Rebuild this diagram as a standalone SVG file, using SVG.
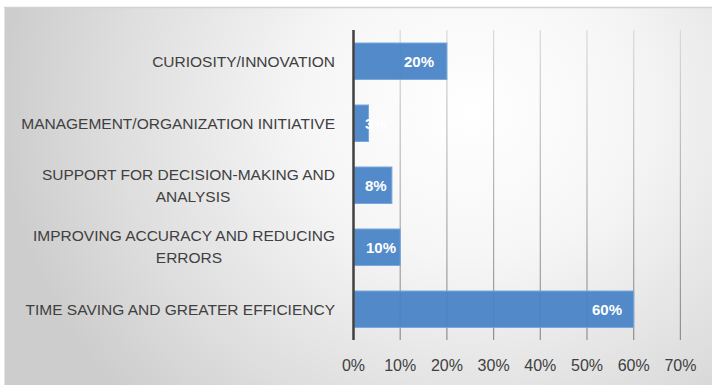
<svg xmlns="http://www.w3.org/2000/svg" width="712" height="385" viewBox="0 0 712 385">
<defs>
<radialGradient id="bg" gradientUnits="userSpaceOnUse" cx="470" cy="110" r="470" gradientTransform="translate(470 110) scale(1 0.9) translate(-470 -110)">
<stop offset="0" stop-color="#ffffff"/>
<stop offset="0.35" stop-color="#f6f6f6"/>
<stop offset="0.75" stop-color="#dedede"/>
<stop offset="1" stop-color="#cdcdcd"/>
</radialGradient>
<linearGradient id="grid" gradientUnits="userSpaceOnUse" x1="0" y1="30" x2="0" y2="340">
<stop offset="0" stop-color="#dadada"/>
<stop offset="1" stop-color="#8e8e8e"/>
</linearGradient>
<style>
.cat{font-family:"Liberation Sans",Arial,sans-serif;font-size:15.5px;fill:#404040;text-anchor:end}
.cat2{font-family:"Liberation Sans",Arial,sans-serif;font-size:15.5px;fill:#404040;text-anchor:middle}
.ax{font-family:"Liberation Sans",Arial,sans-serif;font-size:16px;fill:#404040;text-anchor:middle}
.val{font-family:"Liberation Sans",Arial,sans-serif;font-size:15px;font-weight:bold;fill:#ffffff}
.bar{fill:#4682c6;fill-opacity:0.93;stroke:#7aa7dc;stroke-width:1}
.gl{stroke:url(#grid);stroke-width:1.2}
</style>
</defs>
<rect x="0" y="0" width="712" height="385" fill="#ffffff"/>
<rect x="4" y="8" width="708" height="377" fill="url(#bg)"/>
<line x1="4" y1="7.5" x2="712" y2="7.5" stroke="#d2d2d2" stroke-width="1.5"/>
<line x1="4.5" y1="8" x2="4.5" y2="385" stroke="#e4e4e4" stroke-width="1"/>
<g id="gridlines">
<line class="gl" x1="400.2" y1="30" x2="400.2" y2="340"/>
<line class="gl" x1="446.9" y1="30" x2="446.9" y2="340"/>
<line class="gl" x1="493.6" y1="30" x2="493.6" y2="340"/>
<line class="gl" x1="540.3" y1="30" x2="540.3" y2="340"/>
<line class="gl" x1="587" y1="30" x2="587" y2="340"/>
<line class="gl" x1="633.7" y1="30" x2="633.7" y2="340"/>
<line class="gl" x1="680.4" y1="30" x2="680.4" y2="340"/>
</g>
<g id="bar-curiosity">
<rect class="bar" x="354.5" y="43" width="92.4" height="36.5"/>
<text class="val" x="434" y="66.5" text-anchor="end">20%</text>
</g>
<g id="bar-management">
<rect class="bar" x="354.5" y="105" width="14" height="36.5"/>
<text class="val" x="365" y="128.5">3%</text>
</g>
<g id="bar-support">
<rect class="bar" x="354.5" y="167" width="37.4" height="36.5"/>
<text class="val" x="365" y="190.5">8%</text>
</g>
<g id="bar-accuracy">
<rect class="bar" x="354.5" y="229" width="45.7" height="36.5"/>
<text class="val" x="366" y="252.5">10%</text>
</g>
<g id="bar-time">
<rect class="bar" x="354.5" y="291" width="279.2" height="36.5"/>
<text class="val" x="622" y="314.5" text-anchor="end">60%</text>
</g>
<g id="axis">
<line x1="353.5" y1="30" x2="353.5" y2="340" stroke="#404040" stroke-width="2.5"/>
</g>
<g id="category-labels">
<text class="cat" x="335" y="66.5">CURIOSITY/INNOVATION</text>
<text class="cat" x="335" y="128.5">MANAGEMENT/ORGANIZATION INITIATIVE</text>
<text class="cat" x="335" y="179.5">SUPPORT FOR DECISION-MAKING AND</text>
<text class="cat2" x="193" y="201.5">ANALYSIS</text>
<text class="cat" x="335" y="241">IMPROVING ACCURACY AND REDUCING</text>
<text class="cat2" x="189" y="263">ERRORS</text>
<text class="cat" x="335" y="314.5">TIME SAVING AND GREATER EFFICIENCY</text>
</g>
<g id="axis-labels">
<text class="ax" x="353.5" y="370.5">0%</text>
<text class="ax" x="400.2" y="370.5">10%</text>
<text class="ax" x="446.9" y="370.5">20%</text>
<text class="ax" x="493.6" y="370.5">30%</text>
<text class="ax" x="540.3" y="370.5">40%</text>
<text class="ax" x="587" y="370.5">50%</text>
<text class="ax" x="633.7" y="370.5">60%</text>
<text class="ax" x="680.4" y="370.5">70%</text>
</g>
</svg>
